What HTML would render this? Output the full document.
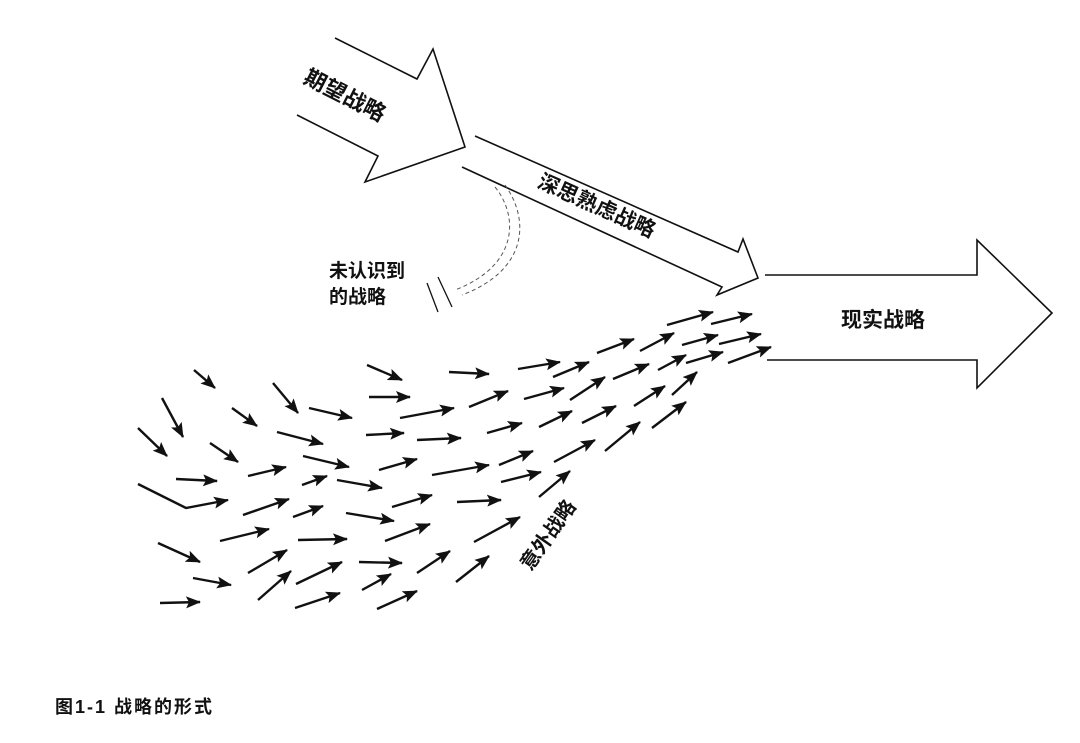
<!DOCTYPE html>
<html><head><meta charset="utf-8"><style>
html,body{margin:0;padding:0;background:#fff;}
svg{display:block;}
text{font-family:"Liberation Sans","Noto Sans CJK SC",sans-serif;fill:#111;font-weight:bold;}
</style></head><body>
<svg width="1080" height="743" viewBox="0 0 1080 743" xmlns="http://www.w3.org/2000/svg">
<defs>
<marker id="ah" markerUnits="userSpaceOnUse" markerWidth="16" markerHeight="12" refX="14" refY="6" orient="auto">
<path d="M0,0 L15,6 L0,12 L3,6 Z" fill="#111"/>
</marker>
</defs>
<g fill="none" stroke="#111" stroke-width="1.6" stroke-linejoin="miter">
<polyline points="335,38 417,79 433,49 465,147 365,182 378,156 297,115"/>
<polyline points="475,136 738,252 743,239 758,278 717,295 722,287 462,167"/>
<polyline points="765,275 977,275 977,240 1052,313 977,388 977,360 767,360"/>
</g>
<g fill="none" stroke="#555" stroke-width="1" stroke-dasharray="4,3">
<path d="M495,187 C518,215 520,265 455,290"/>
<path d="M505,185 C530,220 528,270 462,295"/>
</g>
<g stroke="#111" stroke-width="1.3">
<line x1="427" y1="283" x2="438" y2="312"/>
<line x1="438" y1="277" x2="452" y2="307"/>
</g>
<g stroke="#111" stroke-width="2.4" fill="none" marker-end="url(#ah)">
<line x1="194" y1="370" x2="215" y2="388"/>
<line x1="162" y1="398" x2="183" y2="437"/>
<line x1="138" y1="428" x2="167" y2="456"/>
<line x1="232" y1="408" x2="257" y2="426"/>
<line x1="273" y1="383" x2="298" y2="413"/>
<line x1="367" y1="365" x2="402" y2="380"/>
<line x1="449" y1="372" x2="489" y2="374"/>
<line x1="369" y1="397" x2="410" y2="397"/>
<line x1="309" y1="408" x2="352" y2="418"/>
<line x1="277" y1="432" x2="323" y2="444"/>
<line x1="210" y1="443" x2="238" y2="462"/>
<line x1="176" y1="479" x2="217" y2="481"/>
<line x1="248" y1="476" x2="286" y2="467"/>
<line x1="303" y1="456" x2="349" y2="467"/>
<line x1="400" y1="418" x2="454" y2="408"/>
<line x1="366" y1="435" x2="404" y2="433"/>
<line x1="417" y1="440" x2="461" y2="438"/>
<line x1="518" y1="369" x2="560" y2="362"/>
<line x1="469" y1="407" x2="508" y2="391"/>
<line x1="524" y1="399" x2="564" y2="388"/>
<line x1="487" y1="433" x2="522" y2="423"/>
<line x1="432" y1="475" x2="489" y2="465"/>
<line x1="379" y1="470" x2="417" y2="459"/>
<line x1="337" y1="480" x2="382" y2="488"/>
<line x1="302" y1="485" x2="327" y2="476"/>
<polyline points="138,484 186,508 228,500"/>
<line x1="243" y1="515" x2="289" y2="499"/>
<line x1="293" y1="517" x2="323" y2="506"/>
<line x1="346" y1="513" x2="394" y2="521"/>
<line x1="392" y1="507" x2="432" y2="495"/>
<line x1="457" y1="502" x2="501" y2="500"/>
<line x1="220" y1="541" x2="269" y2="529"/>
<line x1="298" y1="540" x2="347" y2="539"/>
<line x1="385" y1="541" x2="430" y2="524"/>
<line x1="474" y1="542" x2="520" y2="517"/>
<line x1="158" y1="543" x2="200" y2="562"/>
<line x1="193" y1="578" x2="231" y2="585"/>
<line x1="248" y1="573" x2="287" y2="550"/>
<line x1="296" y1="584" x2="342" y2="562"/>
<line x1="359" y1="562" x2="402" y2="563"/>
<line x1="417" y1="573" x2="450" y2="551"/>
<line x1="456" y1="582" x2="489" y2="556"/>
<line x1="160" y1="603" x2="200" y2="602"/>
<line x1="258" y1="600" x2="291" y2="571"/>
<line x1="295" y1="608" x2="340" y2="593"/>
<line x1="362" y1="590" x2="391" y2="574"/>
<line x1="377" y1="609" x2="417" y2="591"/>
<line x1="553" y1="377" x2="589" y2="362"/>
<line x1="570" y1="400" x2="605" y2="377"/>
<line x1="597" y1="353" x2="634" y2="339"/>
<line x1="640" y1="351" x2="674" y2="333"/>
<line x1="613" y1="379" x2="649" y2="364"/>
<line x1="658" y1="370" x2="686" y2="355"/>
<line x1="682" y1="345" x2="718" y2="335"/>
<line x1="686" y1="363" x2="723" y2="352"/>
<line x1="667" y1="325" x2="713" y2="312"/>
<line x1="711" y1="324" x2="752" y2="314"/>
<line x1="719" y1="344" x2="761" y2="334"/>
<line x1="728" y1="363" x2="771" y2="347"/>
<line x1="672" y1="395" x2="697" y2="372"/>
<line x1="634" y1="406" x2="665" y2="386"/>
<line x1="652" y1="428" x2="686" y2="402"/>
<line x1="605" y1="451" x2="640" y2="422"/>
<line x1="539" y1="427" x2="572" y2="411"/>
<line x1="582" y1="423" x2="616" y2="406"/>
<line x1="554" y1="462" x2="595" y2="440"/>
<line x1="499" y1="465" x2="533" y2="451"/>
<line x1="501" y1="482" x2="541" y2="472"/>
<line x1="539" y1="497" x2="570" y2="471"/>
</g>
<text x="345" y="103" font-size="22" text-anchor="middle" transform="rotate(27 345 95)">期望战略</text>
<text x="597" y="213" font-size="21" text-anchor="middle" transform="rotate(24 597 205)">深思熟虑战略</text>
<text x="329" y="277" font-size="19" font-weight="normal">未认识到</text>
<text x="329" y="303" font-size="19" font-weight="normal">的战略</text>
<text x="883" y="327" font-size="21" text-anchor="middle">现实战略</text>
<text x="548" y="542" font-size="20" text-anchor="middle" transform="rotate(-55 548 535)">意外战略</text>
<text x="55" y="713" font-size="18" letter-spacing="2">图1-1  战略的形式</text>
</svg>
</body></html>
